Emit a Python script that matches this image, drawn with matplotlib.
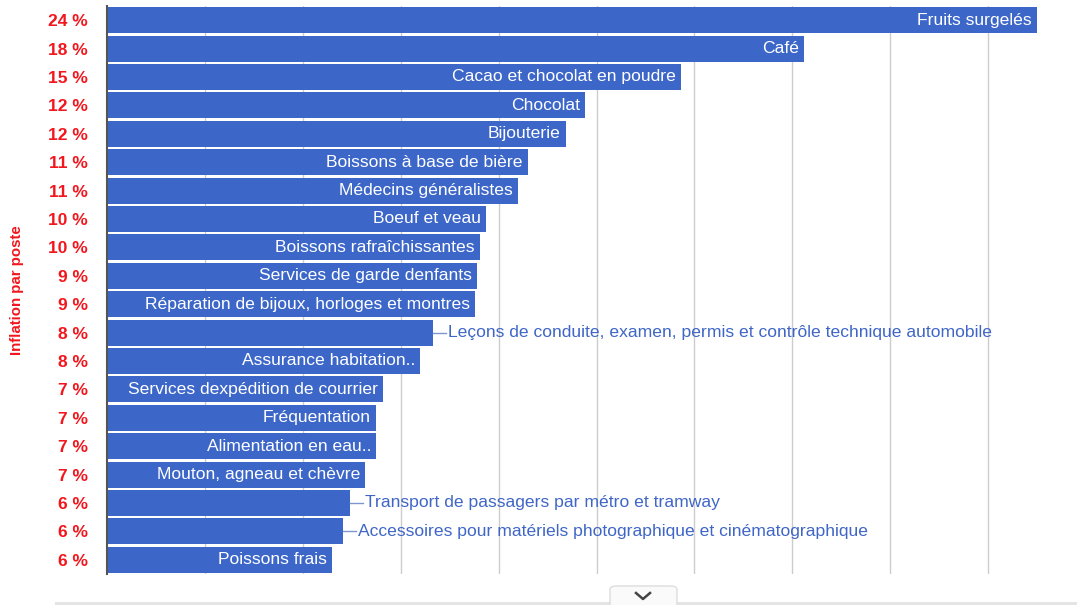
import matplotlib
matplotlib.use("Agg")
from matplotlib import pyplot as plt
from matplotlib.patches import FancyBboxPatch
from matplotlib.lines import Line2D

plt.rcParams['font.family'] = ['Liberation Sans', 'DejaVu Sans']

# postes et inflation (en %)
postes = ["Fruits surgelés", "Café", "Cacao et chocolat en poudre", "Chocolat", "Bijouterie",
          "Boissons à base de bière", "Médecins généralistes", "Boeuf et veau",
          "Boissons rafraîchissantes", "Services de garde denfants",
          "Réparation de bijoux, horloges et montres",
          "Leçons de conduite, examen, permis et contrôle technique automobile",
          "Assurance habitation..", "Services dexpédition de courrier", "Fréquentation",
          "Alimentation en eau..", "Mouton, agneau et chèvre",
          "Transport de passagers par métro et tramway",
          "Accessoires pour matériels photographique et cinématographique", "Poissons frais"]
inflation = [23.75, 17.8, 14.66, 12.2, 11.72, 10.75, 10.5, 9.68, 9.52, 9.45, 9.4,
             8.32, 7.99, 7.05, 6.87, 6.87, 6.59, 6.2, 6.03, 5.75]
tick_labels = ["24 %", "18 %", "15 %", "12 %", "12 %", "11 %", "11 %", "10 %", "10 %", "9 %",
               "9 %", "8 %", "8 %", "7 %", "7 %", "7 %", "7 %", "6 %", "6 %", "6 %"]

bar_color = "#3c67c9"
red = "#f2161d"

fig = plt.figure(figsize=(10.77, 6.05), dpi=100)
ax = fig.add_axes([107 / 1077, 1 - 574 / 605, 970 / 1077, 568 / 605])

pos = list(range(len(postes)))
ax.barh(pos, inflation, height=0.92, color=bar_color, zorder=2)
ax.set_ylim(len(postes) - 0.5, -0.5)
ax.set_xlim(0, 970 / 39.16)

ax.set_xticks([2.5 * i for i in range(1, 10)])
ax.set_xticklabels([])
ax.tick_params(axis="x", length=0)
ax.grid(axis="x", color="#cccccc", linewidth=1, zorder=0)
for s in ["top", "right", "bottom"]:
    ax.spines[s].set_visible(False)
ax.spines["left"].set_color("#555555")
ax.spines["left"].set_linewidth(1.5)
ax.spines["left"].set_zorder(3)

ax.set_yticks(pos)
ax.set_yticklabels(tick_labels, color=red, fontweight="bold", fontsize=12.5)
ax.tick_params(axis="y", length=0, pad=14)
ax.set_ylabel("Inflation par poste", color=red, fontweight="bold", fontsize=10.8, labelpad=17)

# étiquettes : dans la barre si elles tiennent, sinon à droite avec un trait
fig.canvas.draw()
renderer = fig.canvas.get_renderer()
px = 39.16  # pixels par %
fs = 12.6
for i, (name, val) in enumerate(zip(postes, inflation)):
    t = ax.text(val - 5 / px, i, name, ha="right", va="center", color="white", fontsize=fs, zorder=4)
    w = t.get_window_extent(renderer).width
    if w + 10 > val * px:
        t.remove()
        ax.add_line(Line2D([val, val + 13 / px], [i, i], color="#7f95cf", linewidth=1, zorder=4))
        ax.text(val + 15 / px, i, name, ha="left", va="center", color="#3f66c6", fontsize=fs, zorder=4)

# ombre et bouton en bas
fig.patches.append(FancyBboxPatch((55 / 1077, 0.0), 1022 / 1077, 3 / 605, boxstyle="square,pad=0",
                                  transform=fig.transFigure, facecolor="#e4e4e4", edgecolor="none"))
fig.patches.append(FancyBboxPatch((610 / 1077, -5 / 605), 67 / 1077, 24 / 605,
                                  boxstyle="round,pad=0,rounding_size=0.006",
                                  transform=fig.transFigure, facecolor="#fafafa", edgecolor="#dddddd"))
fig.lines.append(Line2D([636 / 1077, 643 / 1077, 650 / 1077], [1 - 593 / 605, 1 - 599 / 605, 1 - 593 / 605],
                        transform=fig.transFigure, color="#444444", linewidth=1.8))

fig.savefig("out.png", dpi=100)
